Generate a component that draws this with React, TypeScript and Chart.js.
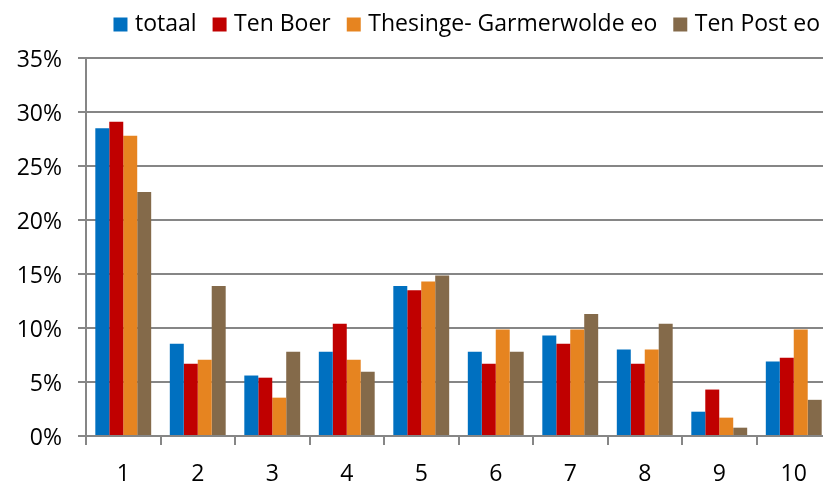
import React, { useEffect, useRef } from "react";
import { Chart, registerables } from "chart.js";

Chart.register(...registerables);

const categories = ["1", "2", "3", "4", "5", "6", "7", "8", "9", "10"];
const totaal = [28.5, 8.55, 5.6, 7.8, 13.9, 7.8, 9.3, 8.0, 2.25, 6.9];
const tenBoer = [29.1, 6.7, 5.4, 10.4, 13.5, 6.7, 8.55, 6.7, 4.3, 7.25];
const thesinge = [27.8, 7.05, 3.55, 7.05, 14.3, 9.85, 9.85, 8.0, 1.7, 9.85];
const tenPost = [22.6, 13.9, 7.8, 5.95, 14.85, 7.8, 11.3, 10.4, 0.77, 3.35];
const seriesNames = ["totaal", "Ten Boer", "Thesinge- Garmerwolde eo", "Ten Post eo"];
const seriesColors = ["#0070C0", "#C00000", "#E68420", "#846A4A"];

const FONT = "'Open Sans', 'Noto Sans', sans-serif";
const GRID = "#868686";

const legendHeightPlugin = {
  id: "legendHeight",
  beforeInit(chart: any) {
    const legend = chart.legend;
    if (!legend) return;
    const orig = legend.fit;
    legend.fit = function () {
      orig.call(this);
      this.height = 65;
    };
  },
};

export default function App() {
  const ref = useRef<HTMLCanvasElement | null>(null);
  useEffect(() => {
    if (!ref.current) return;
    const values = [totaal, tenBoer, thesinge, tenPost];
    const chart = new Chart(ref.current, {
      type: "bar",
      data: {
        labels: categories,
        datasets: values.map((v, i) => ({
          label: seriesNames[i],
          data: v,
          backgroundColor: seriesColors[i],
          borderWidth: 0,
          categoryPercentage: 0.75,
          barPercentage: 1.0,
        })),
      },
      plugins: [legendHeightPlugin],
      options: {
        animation: false,
        responsive: false,
        devicePixelRatio: 1,
        layout: { padding: { top: -7, right: 0, left: 0, bottom: 0 } },
        plugins: {
          legend: {
            position: "top",
            align: "end",
            labels: {
              usePointStyle: true,
              pointStyle: "rect",
              boxWidth: 6,
              boxHeight: 14,
              padding: 20,
              color: "#000",
              font: { size: 23, family: FONT },
            },
          },
          tooltip: { enabled: false },
        },
        scales: {
          x: {
            grid: {
              display: true,
              drawOnChartArea: false,
              drawTicks: true,
              tickLength: 9,
              color: GRID,
              lineWidth: 2,
              offset: true,
            },
            border: { color: GRID, width: 2 },
            ticks: {
              color: "#000",
              padding: 16,
              maxRotation: 0,
              font: { size: 23, family: FONT },
            },
            afterFit(scale: any) {
              scale.height = 47;
            },
          },
          y: {
            min: 0,
            max: 35,
            ticks: {
              stepSize: 5,
              color: "#000",
              padding: 16,
              labelOffset: 2,
              font: { size: 23, family: FONT },
              callback: (v: any) => v + "%",
            },
            grid: { color: GRID, lineWidth: 2, tickLength: 8, drawTicks: true },
            border: { color: GRID, width: 2 },
            afterFit(scale: any) {
              scale.width = 86;
            },
          },
          rightSpacer: {
            type: "linear",
            position: "right",
            display: true,
            grid: { display: false, drawTicks: false },
            border: { display: false },
            ticks: { display: false },
            afterFit(scale: any) {
              scale.width = 9;
            },
          },
        },
      },
    });
    return () => chart.destroy();
  }, []);
  return (
    <div
      style={{
        position: "fixed",
        left: 0,
        top: 0,
        width: 823,
        height: 483,
        overflow: "hidden",
        background: "#fff",
      }}
    >
      <canvas ref={ref} width={840} height={483} style={{ display: "block", width: 840, height: 483 }} />
    </div>
  );
}
